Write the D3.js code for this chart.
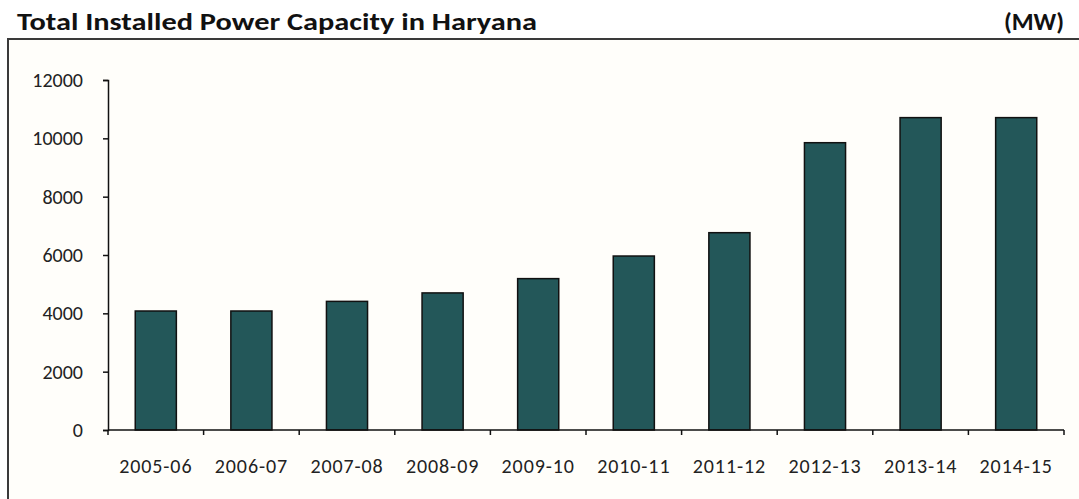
<!DOCTYPE html>
<html><head><meta charset="utf-8">
<script src="https://cdn.jsdelivr.net/npm/d3@7"></script>
<style>
html,body{margin:0;padding:0;background:#fff;}
svg{display:block;}
</style></head>
<body>
<svg id="c" width="1079" height="499"></svg>
<script>
const categories = ["2005-06","2006-07","2007-08","2008-09","2009-10","2010-11","2011-12","2012-13","2013-14","2014-15"];
const capacity = [4080, 4080, 4410, 4700, 5190, 5965, 6765, 9850, 10710, 10710];
const yTicks = [0, 2000, 4000, 6000, 8000, 10000, 12000];
const title = "Total Installed Power Capacity in Haryana";
const unit = "(MW)";

(function(){
const svg = d3.select("#c");
const mLeft = 108, mRight = 1064, mTop = 80, mBottom = 430;
const font = "Carlito, 'Open Sans', 'Liberation Sans', sans-serif";

// frame
svg.append("rect").attr("x",8).attr("y",39).attr("width",1079).attr("height",470)
  .attr("fill","#fffefa").attr("stroke","#3a3a3a").attr("stroke-width",2);

// title
svg.append("text").attr("x",17).attr("y",30).text(title)
  .attr("font-family",font).attr("font-weight","bold").attr("font-size",25).attr("fill","#111")
  .attr("textLength",520).attr("lengthAdjust","spacingAndGlyphs");
svg.append("text").attr("x",1064).attr("y",30).attr("text-anchor","end").text(unit)
  .attr("font-family",font).attr("font-weight","bold").attr("font-size",25).attr("fill","#111");

const x = d3.scaleBand().domain(categories).range([mLeft,mRight]).paddingInner(0.57).paddingOuter(0.285);
const y = d3.scaleLinear().domain([0,12000]).range([mBottom,mTop]);

// bars
svg.append("g").selectAll("rect").data(categories).join("rect")
  .attr("x",d=>x(d)).attr("width",x.bandwidth())
  .attr("y",(d,i)=>y(capacity[i])).attr("height",(d,i)=>y(0)-y(capacity[i]))
  .attr("fill","#235759").attr("stroke","#111").attr("stroke-width",1.5);

// y axis
const ya = svg.append("g").attr("transform",`translate(${mLeft},0)`)
  .call(d3.axisLeft(y).tickValues(yTicks).tickSize(5).tickPadding(20).tickFormat(d3.format("d")));
ya.select(".domain").attr("stroke","#111").attr("stroke-width",1.5);
ya.selectAll(".tick line").attr("stroke","#111").attr("stroke-width",1.5);
ya.selectAll(".tick text").attr("font-family",font).attr("font-size",20).attr("fill","#222");

// x axis (labels)
const xa = svg.append("g").attr("transform",`translate(0,${mBottom})`)
  .call(d3.axisBottom(x).tickSize(0).tickPadding(29));
xa.select(".domain").remove();
xa.selectAll(".tick text").attr("font-family",font).attr("font-size",20).attr("fill","#222")
  .attr("letter-spacing","0.9px");
svg.append("line").attr("x1",mLeft).attr("x2",mRight).attr("y1",mBottom).attr("y2",mBottom)
  .attr("stroke","#111").attr("stroke-width",1.5);
// boundary ticks
const step = x.step();
const bounds = categories.map(c => x(c) - step*x.paddingInner()/2).concat([mRight]);
svg.append("g").selectAll("line").data(bounds).join("line")
  .attr("x1",d=>d).attr("x2",d=>d).attr("y1",mBottom).attr("y2",mBottom+5)
  .attr("stroke","#111").attr("stroke-width",1.5);
})();
</script>
</body></html>
